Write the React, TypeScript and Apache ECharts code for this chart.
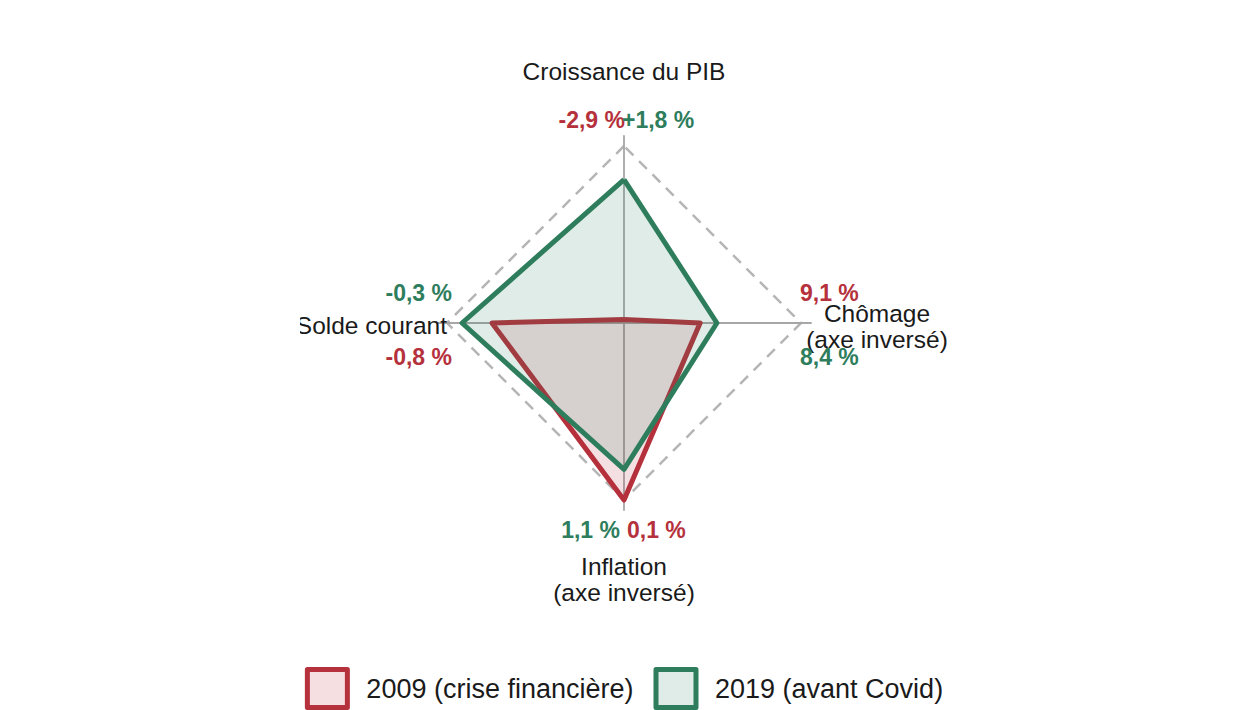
import React, { useEffect, useRef } from "react";
import * as echarts from "echarts";

// Axes in radar order (counter-clockwise from the top)
const axisNames = ["Croissance du PIB", "Solde courant", "Inflation\n(axe inversé)", "Chômage\n(axe inversé)"];
const axisSigned = [true, false, false, false];

const seriesNames = ["2009 (crise financière)", "2019 (avant Covid)"];
// Actual values (%) shown as labels
const values2009 = [-2.9, -0.8, 0.1, 9.1];
const values2019 = [1.8, -0.3, 1.1, 8.4];
// Normalised positions on each axis (0 = centre, 1 = outer ring)
const scores2009 = [0.02, 0.746, 1.0, 0.43];
const scores2019 = [0.81, 0.915, 0.827, 0.525];

const RED = "#b5313c";
const GREEN = "#2e7d5c";
const RED_FILL = "rgba(181,49,60,0.15)";
const GREEN_FILL = "rgba(46,125,92,0.15)";
const TEXT = "#1a1a1a";
const FONT = "'Liberation Sans', Arial, sans-serif";

const fmt = (v: number, signed: boolean) =>
  (signed && v > 0 ? "+" : "") + v.toFixed(1).replace(".", ",") + " %";

export default function App() {
  const ref = useRef<HTMLDivElement>(null);
  useEffect(() => {
    if (!ref.current) return;
    const chart = echarts.init(ref.current, null, { renderer: "svg" });
    const CX = 624;
    const CY = 323;
    const R = 177;
    const RA = 187;
    const indicator = axisNames.map((n) => ({ name: n, min: 0, max: 1 }));
    const nameStyle = { fontSize: 24.5, fill: TEXT, fontFamily: FONT };
    const valStyle = (color: string) => ({ fontSize: 23, fontWeight: "bold", fill: color, fontFamily: FONT });
    const txt = (text: string, x: number, y: number, align: string, style: any) => ({
      type: "text",
      x,
      y,
      z: 50,
      style: { text, align, verticalAlign: "middle", ...style },
    });
    const graphic: any[] = [
      // top: Croissance du PIB
      txt(axisNames[0], CX, CY - 252, "center", nameStyle),
      txt(fmt(values2009[0], axisSigned[0]), CX + 1, CY - 203, "right", valStyle(RED)),
      txt(fmt(values2019[0], axisSigned[0]), CX - 2, CY - 203, "left", valStyle(GREEN)),
      // left: Solde courant
      txt(fmt(values2019[1], axisSigned[1]), CX - 172, CY - 30, "right", valStyle(GREEN)),
      txt(axisNames[1], CX - 177, CY + 2, "right", nameStyle),
      txt(fmt(values2009[1], axisSigned[1]), CX - 172, CY + 34, "right", valStyle(RED)),
      // bottom: Inflation
      txt(fmt(values2019[2], axisSigned[2]), CX - 4, CY + 207, "right", valStyle(GREEN)),
      txt(fmt(values2009[2], axisSigned[2]), CX + 3, CY + 207, "left", valStyle(RED)),
      txt(axisNames[2].split("\n")[0], CX, CY + 243, "center", nameStyle),
      txt(axisNames[2].split("\n")[1], CX, CY + 269, "center", nameStyle),
      // right: Chômage
      txt(fmt(values2009[3], axisSigned[3]), CX + 176, CY - 30, "left", valStyle(RED)),
      txt(axisNames[3].split("\n")[0], CX + 253, CY - 10, "center", nameStyle),
      txt(axisNames[3].split("\n")[1], CX + 253, CY + 16, "center", nameStyle),
      txt(fmt(values2019[3], axisSigned[3]), CX + 176, CY + 34, "left", valStyle(GREEN)),
      // clip artefact at the left edge
      { type: "rect", z: 100, shape: { x: 0, y: CY - 14, width: 300, height: 30 }, style: { fill: "#fff" } },
    ];
    chart.setOption({
      animation: false,
      backgroundColor: "#fff",
      legend: {
        left: "center",
        top: 667,
        padding: 0,
        icon: "rect",
        itemWidth: 40,
        itemHeight: 38,
        itemGap: 20,
        textStyle: { fontSize: 27, color: TEXT, fontFamily: FONT, padding: [0, 0, 0, 14] },
        data: [
          { name: seriesNames[0], itemStyle: { color: "#f6dfe0", borderColor: RED, borderWidth: 5, borderJoin: "round" } },
          { name: seriesNames[1], itemStyle: { color: "#dfece7", borderColor: GREEN, borderWidth: 5, borderJoin: "round" } },
        ],
      },
      radar: [
        {
          center: [CX, CY],
          radius: RA,
          startAngle: 90,
          shape: "polygon",
          splitNumber: 1,
          indicator,
          axisName: { show: false },
          axisLine: { show: true, lineStyle: { color: "#a6a6a6", width: 1.8 } },
          splitLine: { show: false },
          splitArea: { show: false },
          axisTick: { show: false },
          axisLabel: { show: false },
        },
        {
          center: [CX, CY],
          radius: R,
          startAngle: 90,
          shape: "polygon",
          splitNumber: 1,
          indicator,
          axisName: { show: false },
          axisLine: { show: false },
          splitLine: { show: true, lineStyle: { color: "#b5b5b5", width: 2.5, type: [11, 8] } },
          splitArea: { show: false },
          axisTick: { show: false },
          axisLabel: { show: false },
        },
      ],
      series: [
        {
          type: "radar",
          radarIndex: 1,
          symbol: "none",
          data: [
            {
              name: seriesNames[0],
              value: scores2009,
              itemStyle: { color: RED },
              lineStyle: { color: RED, width: 5 },
              areaStyle: { color: RED_FILL, opacity: 1 },
            },
            {
              name: seriesNames[1],
              value: scores2019,
              itemStyle: { color: GREEN },
              lineStyle: { color: GREEN, width: 5 },
              areaStyle: { color: GREEN_FILL, opacity: 1 },
            },
          ],
        },
      ],
      graphic,
    });
    return () => chart.dispose();
  }, []);
  return (
    <div
      ref={ref}
      style={{ position: "fixed", left: 0, top: 0, width: 1248, height: 710, background: "#fff" }}
    />
  );
}
